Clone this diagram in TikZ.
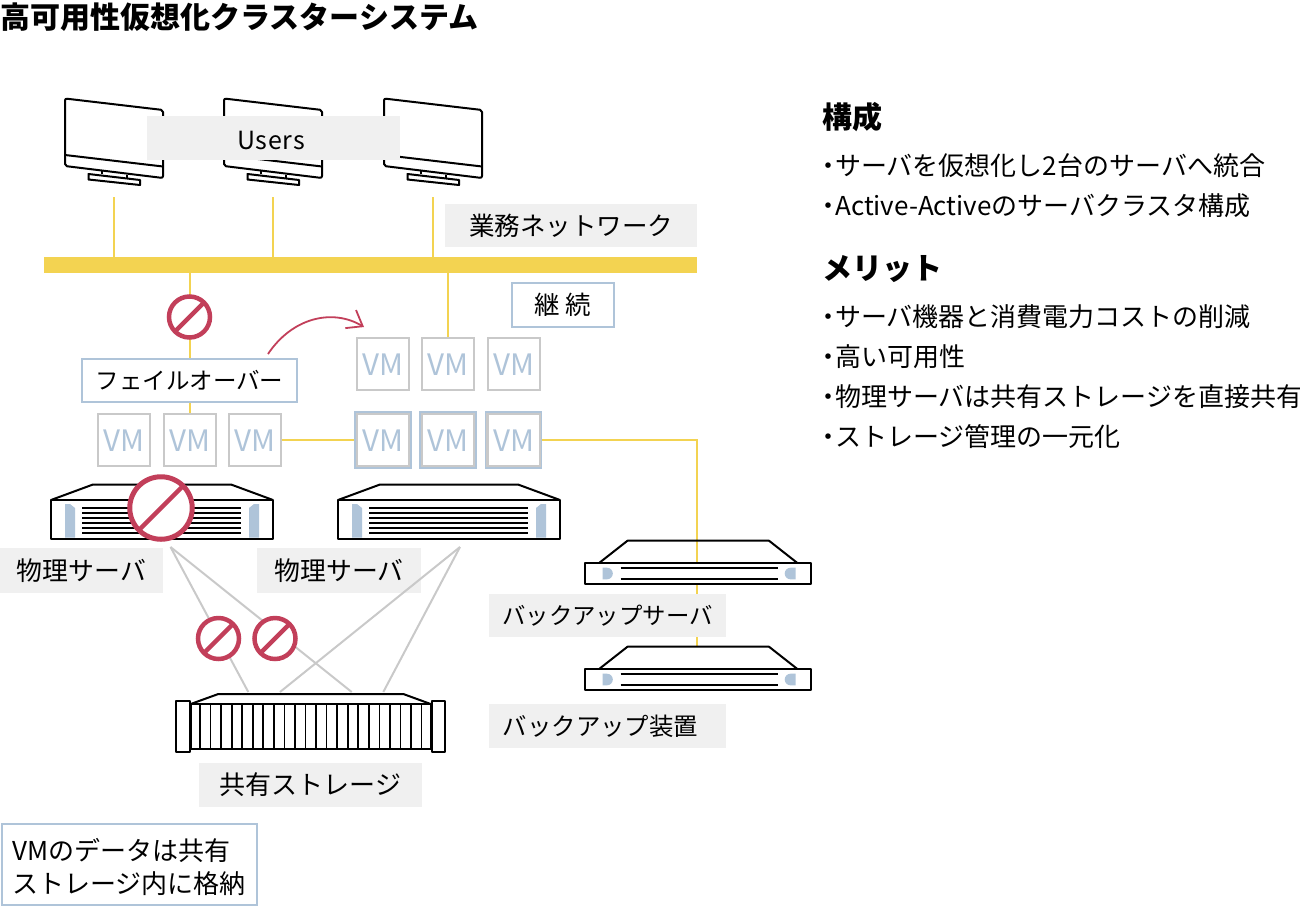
\documentclass[tikz,border=0pt]{standalone}
\usepackage{fontspec}
\setmainfont{Noto Sans CJK JP}
\usepackage{xcolor}
\usetikzlibrary{arrows.meta}

\definecolor{wireyl}{HTML}{F3D351}
\definecolor{paleblue}{HTML}{AFC4D9}
\definecolor{palegray}{HTML}{C9C9C9}
\definecolor{stopred}{HTML}{C23F5A}
\definecolor{lblfill}{HTML}{F0F0F0}

\newcommand{\fsz}[1]{\fontsize{#1}{#1}\selectfont}
\newcommand{\bul}{\makebox[13pt][c]{・}}

\begin{document}
\begin{tikzpicture}[
  x=1pt, y=-1pt,
  lbl/.style    = {fill=lblfill, inner sep=0pt, align=center, font=\fsz{25.5}},
  blbox/.style  = {draw=paleblue, line width=2pt, fill=white, inner sep=0pt,
                   align=center, font=\fsz{24.5}},
  vm/.style     = {draw=palegray, line width=2pt, fill=white, inner sep=0pt,
                   minimum width=52pt, minimum height=52pt, text height=23.6pt, text depth=0pt,
                   text=paleblue, font=\fsz{29.5}},
  vmframe/.style= {draw=paleblue, line width=1.5pt, fill=palegray, inner sep=0pt,
                   minimum width=56pt, minimum height=56pt},
  lan/.style    = {fill=wireyl, inner sep=0pt, minimum width=653pt, minimum height=15.6pt},
  wire/.style   = {draw=wireyl, line width=2pt},
  link/.style   = {draw=palegray, line width=2pt},
  stopsign/.style = {circle, draw=stopred, fill=white, line width=4.5pt, inner sep=0pt,
                   minimum size=#1,
                   path picture={\draw[stopred, line width=4.5pt]
                     (path picture bounding box.south west) --
                     (path picture bounding box.north east);}},
  stopsign/.default = 41pt,
  txt/.style    = {anchor=west, inner sep=0pt, font=\fsz{26}},
  head/.style   = {anchor=west, inner sep=0pt, font=\fsz{30}\bfseries},
  arr/.style    = {-{Straight Barb[length=14pt, width=21pt]}, draw=stopred, line width=1.8pt},
  icon/.style   = {draw=black, line width=2pt, line join=round},
  monitor/.pic  = {
    \draw[icon, rounded corners=2pt] (0,0) -- (98,11.5) -- (98,79.5) -- (0,67.5) -- cycle;
    \draw[icon] (0,56.5) -- (98,68);
    \draw[icon] (36.5,72.5) -- (36.5,75.5) (62,76) -- (62,79);
    \draw[icon] (23.5,75.5) -- (75,81.5) -- (75,86.5) -- (23.5,81) -- cycle;
    \coordinate (-port) at (48.7,98.5);
  },
  rackserver/.pic = {
    \draw[icon] (0,0) -- (42,-15.5) -- (180,-15.5) -- (222,0);
    \draw[icon, fill=white] (0,0) rectangle (222,38.5);
    \fill[paleblue] (14,4) -- (19,4) -- (24,8) -- (24,37.5) -- (14,37.5) -- cycle;
    \fill[paleblue] (208,4) -- (203,4) -- (198,8) -- (198,37.5) -- (208,37.5) -- cycle;
    \foreach \ly in {8.3,13.3,18,23,28,33.3} {
      \draw[black, line width=1.7pt] (31,\ly) -- (190.4,\ly);
    }
  },
  slimserver/.pic = {
    \draw[icon] (14.5,0) -- (42.5,-22) -- (184,-22) -- (212,0);
    \draw[icon, fill=white] (0,0) rectangle (226,21);
    \fill[paleblue] (17.5,5) -- (22,5) arc[start angle=90, end angle=-90, radius=5.8pt] -- (17.5,16.6) -- cycle;
    \fill[paleblue] (210.5,5) -- (205.5,5) arc[start angle=90, end angle=270, radius=5.8pt] -- (210.5,16.6) -- cycle;
    \draw[black, line width=1.7pt] (35.5,5) -- (192.5,5) (35.5,16.3) -- (192.5,16.3);
  },
  storagebox/.pic = {
    \draw[icon] (0,0) -- (27.6,-10) -- (212.6,-10) -- (240,0);
    \draw[icon, fill=white] (0,0) rectangle (240,44.5);
    \foreach \k in {0,...,21} {
      \draw[black, line width=1.7pt] (9.3+\k*10.55,0) -- (9.3+\k*10.55,44.5);
    }
    \draw[icon, fill=white] (-14.7,-3.4) rectangle (-0.7,48);
    \draw[icon, fill=white] (241,-3.4) rectangle (254.3,48);
  },
]

%% Title
\useasboundingbox (0,0) rectangle (1300,908);
\node[anchor=west, inner sep=0pt, font=\fsz{30}\bfseries] (title) at (0,17) {高可用性仮想化クラスターシステム};

%% Users
\pic (mon1) at (65,98.5)  {monitor};
\pic (mon2) at (224,98.5) {monitor};
\pic (mon3) at (384,98.5) {monitor};
\node[lbl, minimum width=253pt, minimum height=44pt] (users) at (273.5,138)
     {\rule{0pt}{23pt}{\fsz{25}\addfontfeature{LetterSpace=3}Users}\hspace{5pt}};

%% Network
\node[lan] (lan) at (370.5,264.8) {};
\draw[wire] (mon1-port) -- (mon1-port |- lan.north);
\draw[wire] (mon2-port) -- (mon2-port |- lan.north);
\draw[wire] (mon3-port) -- (mon3-port |- lan.north);
\node[lbl, minimum width=252pt, minimum height=43pt] (bizlan) at (571,225.5) {業務ネットワーク};

%% VMs
\foreach \i/\vx in {1/124, 2/189.5, 3/254.5} {
  \node[vm] (vma\i) at (\vx,440) {VM};
}
\foreach \i/\vx in {1/383, 2/448, 3/513.5} {
  \node[vm] (vmb\i) at (\vx,364) {VM};
  \node[vmframe] (vmf\i) at (\vx,440) {};
  \node[vm] (vmc\i) at (\vx,440) {VM};
}

%% Failover
\draw[wire] (lan.south -| vma2.north) -- (vma2.north);
\draw[wire] (lan.south -| vmb2.north) -- (vmb2.north);
\draw[wire] (vma3.east) -- (vmf1.west);
\node[stopsign] (stoplan) at (189.5,317) {};
\node[blbox, minimum width=215pt, minimum height=43.5pt, font=\fsz{23.5}] (fover) at (189.5,380.5) {フェイルオーバー};
\node[blbox, minimum width=102pt, minimum height=44pt, font=\fsz{25.5}] (keep) at (562.5,304.5) {継\hspace{5pt}続};
\coordinate (foverout) at (268,354);
\coordinate (foverin) at (364,327);
\draw[arr] (foverout) .. controls (292,318) and (332,308) .. (foverin);

%% Physical servers
\pic at (51,500)  {rackserver};
\pic at (338,500) {rackserver};
\node[lbl, minimum width=163pt, minimum height=45pt, font=\fsz{25.9}] (srva) at (81.5,570.5) {物理サーバ};
\node[lbl, minimum width=164pt, minimum height=45pt, font=\fsz{25.9}] (srvb) at (339,570.5) {物理サーバ};
\node[stopsign=62.5pt, line width=5pt] (stopsrv) at (161,508) {};

%% Storage
\pic at (190.7,704) {storagebox};
\coordinate (srvaport) at (170.5,547);
\coordinate (srvbport) at (460,547);
\coordinate (stp1) at (248.3,692);
\coordinate (stp2) at (280,692);
\coordinate (stp3) at (351.7,692);
\coordinate (stp4) at (383.3,692);
\draw[link] (srvaport) -- (stp1);
\draw[link] (srvaport) -- (stp3);
\draw[link] (srvbport) -- (stp2);
\draw[link] (srvbport) -- (stp4);
\node[stopsign] (stopa) at (218.5,638.5) {};
\node[stopsign] (stopb) at (275,638.5) {};
\node[lbl, minimum width=223pt, minimum height=44pt, font=\fsz{26}] (share) at (310.5,785) {共有ストレージ};

%% Backup
\coordinate (bkturn) at (696.7,440);
\coordinate (bkend) at (696.7,647);
\draw[wire] (vmf3.east) -- (bkturn) -- (bkend);
\pic at (585,562.7) {slimserver};
\pic at (585,668.7) {slimserver};
\node[lbl, minimum width=237pt, minimum height=43pt, font=\fsz{23.4}] (bksrv) at (607.5,615.5) {バックアップサーバ};
\node[lbl, minimum width=237pt, minimum height=44pt, font=\fsz{24.4}] (bkdev) at (607.5,726) {バックアップ装置\hspace{14pt}};

%% Note
\node[blbox, anchor=north west, minimum width=255pt, minimum height=81pt,
      align=left, font={\fontsize{26}{33}\selectfont}] (note) at (0.5,822.5)
     {\rule{0pt}{28pt}VMのデータは共有\\ストレージ内に格納};

%% Right column
\node[head] (hcfg) at (822,117) {構成};
\node[txt] (cfg1) at (822,166) {\bul サーバを仮想化し2台のサーバへ統合};
\node[txt] (cfg2) at (822,206) {\bul Active-Activeのサーバクラスタ構成};
\node[head] (hmer) at (822,269.5) {メリット};
\node[txt] (mer1) at (822,317) {\bul サーバ機器と消費電力コストの削減};
\node[txt] (mer2) at (822,357) {\bul 高い可用性};
\node[txt] (mer3) at (822,397) {\bul 物理サーバは共有ストレージを直接共有};
\node[txt] (mer4) at (822,437) {\bul ストレージ管理の一元化};

\end{tikzpicture}
\end{document}
